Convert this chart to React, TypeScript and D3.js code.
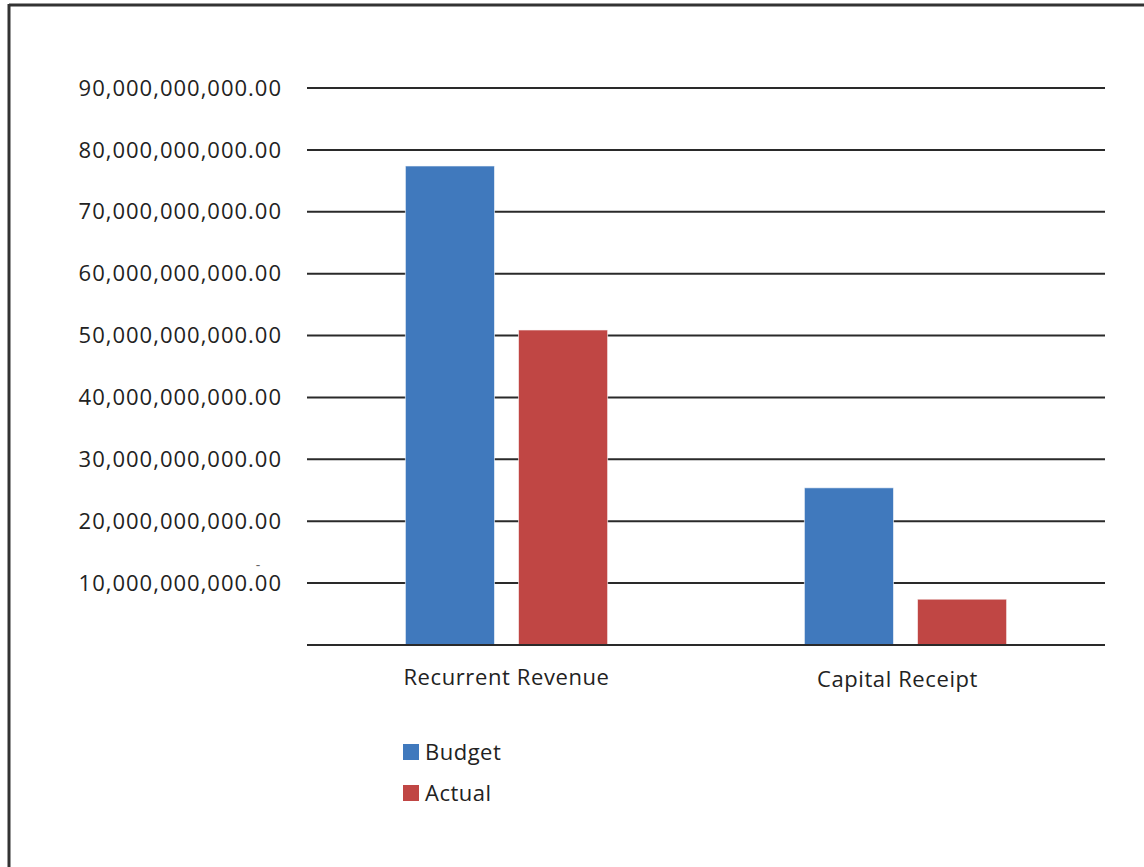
import React from "react";
import * as d3 from "d3";

const categories = ["Recurrent Revenue", "Capital Receipt"];
const seriesNames = ["Budget", "Actual"];
const budgetValues = [77.4e9, 25.4e9];
const actualValues = [50.9e9, 7.4e9];
const yTicks = [0, 10e9, 20e9, 30e9, 40e9, 50e9, 60e9, 70e9, 80e9, 90e9];
const colors = ["#4079BD", "#C04644"];

const W = 1144;
const H = 867;
const FONT = "'Open Sans', 'Liberation Sans', sans-serif";

export default function App() {
  const left = 307;
  const right = 1105;
  const top = 88;
  const bottom = 645;
  const y = d3.scaleLinear().domain([0, 90e9]).range([bottom, top]);
  const x0 = d3.scaleBand().domain(categories).range([left, right]).paddingInner(0).paddingOuter(0);
  const x1 = d3.scaleBand().domain(seriesNames).range([0, x0.bandwidth()]).paddingInner(0.212).paddingOuter(0.87);
  const series = [budgetValues, actualValues];
  const fmt = d3.format(",.2f");

  return (
    <svg width={W} height={H} style={{ position: "absolute", left: 0, top: 0, background: "#fff" }}>
      <rect x={0} y={0} width={W} height={H} fill="#fff" />
      {/* frame */}
      <line x1={9} y1={5} x2={W} y2={5} stroke="#333" strokeWidth={3} />
      <line x1={9} y1={4} x2={9} y2={H} stroke="#333" strokeWidth={3} />
      {/* gridlines */}
      {yTicks.map((t) => (
        <line key={"g" + t} x1={left} x2={right} y1={y(t)} y2={y(t)} stroke="#2a2a2a" strokeWidth={2} />
      ))}
      {/* y labels */}
      {yTicks.filter((t) => t > 0).map((t) => (
        <text key={"l" + t} x={282} y={y(t)} dy="0.35em" textAnchor="end" fontFamily={FONT} fontSize={22} letterSpacing={1.0} fill="#222">
          {fmt(t)}
        </text>
      ))}
      <text x={258} y={y(10e9) - 13} textAnchor="middle" fontFamily={FONT} fontSize={14} fill="#666">-</text>
      {/* bars */}
      {categories.map((c, ci) =>
        seriesNames.map((s, si) => {
          const v = series[si][ci];
          return (
            <rect
              key={c + s}
              x={(x0(c) as number) + (x1(s) as number)}
              y={y(v)}
              width={x1.bandwidth()}
              height={bottom - y(v)}
              fill={colors[si]}
              stroke="#ffffff"
              strokeOpacity={0.6}
              strokeWidth={1}
            />
          );
        })
      )}
      <line x1={left} x2={right} y1={bottom} y2={bottom} stroke="#2a2a2a" strokeWidth={2} />
      {/* x labels */}
      {categories.map((c, ci) => (
        <text key={"x" + c} x={(x0(c) as number) + x0.bandwidth() / 2 - (ci === 1 ? 8 : 0)} y={677 + ci * 2} dy="0.35em" textAnchor="middle" fontFamily={FONT} fontSize={22} letterSpacing={0.6} fill="#222">
          {c}
        </text>
      ))}
      {/* legend */}
      {seriesNames.map((s, si) => (
        <g key={"lg" + s} transform={`translate(403, ${744 + si * 41})`}>
          <rect x={0} y={0} width={16} height={16} fill={colors[si]} />
          <text x={22} y={8} dy="0.35em" fontFamily={FONT} fontSize={22} letterSpacing={0.5} fill="#222">{s}</text>
        </g>
      ))}
    </svg>
  );
}
